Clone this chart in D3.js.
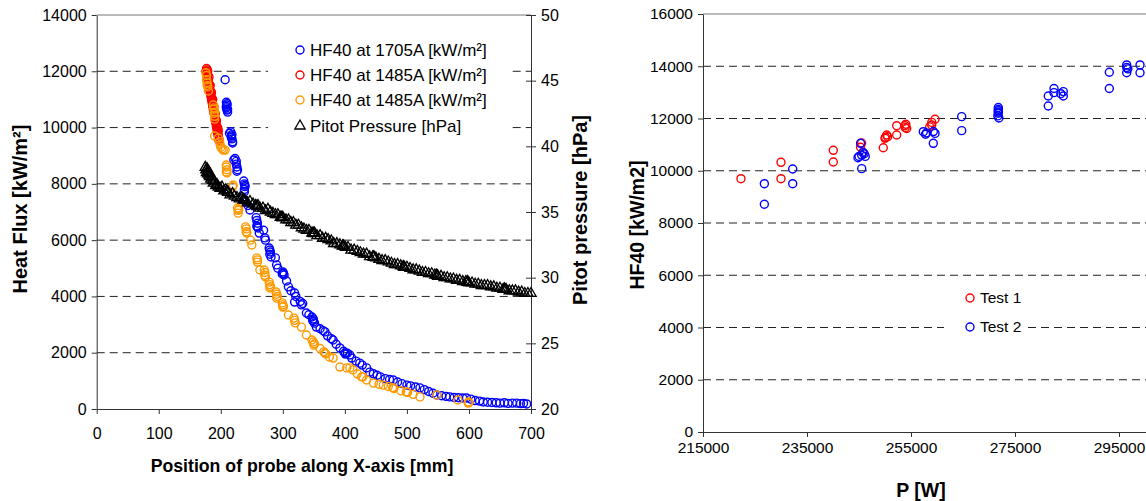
<!DOCTYPE html>
<html><head><meta charset="utf-8">
<script src="https://cdn.jsdelivr.net/npm/d3@7"></script>
<style>body{margin:0;background:#fff;overflow:hidden} text{font-family:"Liberation Sans",Arial,sans-serif;fill:#000}</style>
</head><body><svg id="c" width="1146" height="501"></svg>
<script>
// ---------- Left chart data ----------
const leftXTicks=[0,100,200,300,400,500,600,700];
const leftYTicks=[0,2000,4000,6000,8000,10000,12000,14000];
const pitotTicks=[20,25,30,35,40,45,50];
const legendLeft=["HF40 at 1705A [kW/m²]","HF40 at 1485A [kW/m²]","HF40 at 1485A [kW/m²]","Pitot Pressure [hPa]"];
const hf1705=[[207,11700],[209,10900],[210,10800],[209,10700],[210,10620],[211,10550],[210,10850],[209,10750],[211,10650],
[214,9800],[216,9850],[217,9700],[218,9600],[219,9500],[218,9750],[219,9450],[217,9650],
[221,8850],[223,8900],[225,8700],[226,8600],[227,8500],[226,8450],[225,8800],
[237,8100],[238,8000],[239,7900],[238,7800],[239,7950],[238,7720],[240,7350],[244,7230],[247,7070],
[257,6800],[258,6700],[259,6600],[258,6500],[259,6470],[260,6430],[262,6250],[269,6350],[271,6080],[272,6000],
[278,5720],[279,5650],[280,5580],[279,5500],[281,5400],[288,5370],[290,5120],[292,5000],
[300,4870],[301,4820],[302,4760],[299,4800],[306,4550],[309,4340],[313,4200],
[319,4120],[321,4000],[319,3800],[328,3820],[330,3700],[332,3750],
[338,3410],[342,3350],[347,3270],[349,3200],[350,3100],[351,3050],[348,3150],
[354,2910],[360,2850],[365,2780],[368,2740],[372,2600],[378,2500],[381,2450],[386,2300],
[392,2170],[398,2050],[400,1990],[401,1950],[404,1980],[408,1920],[411,1810],[418,1700],[424,1630],[428,1560],[435,1460],[440,1310],[446,1250],
[452,1200],[457,1140],[465,1080],[472,1050],[478,1030],[485,960],[492,900],[500,850],[506,820],[514,780],[521,750],[528,690],[535,620],
[542,560],[548,500],[556,470],[563,450],[569,430],[576,410],[583,400],[590,390],[596,390],[603,350],[610,300],[617,280],[623,250],[630,240],
[637,230],[644,220],[650,210],[657,220],[663,200],[670,210],[677,210],[683,190],[688,200],[693,180]];
const hf1485a=[[177,12100],[178,12050],[176,12000],[178,11950],[177,11900],[179,11850],[178,11800],[179,11750],[180,11700],[179,11650],[180,11600],[181,11550],[181,11500],[182,11430],[182,11370],[183,11300],[183,11240],[184,11180],[184,11120],[185,11060],[185,11000],[186,10940],[186,10880],[187,10820],[187,10760],[188,10700],[188,10640],[189,10580],[189,10520],[190,10460],[190,10400],[191,10330],[191,10270],[192,10210],[192,10150],[193,10090],[193,10030],[194,9970],[194,9910],[195,9850],[195,9790],[196,9730],[196,9670],[197,9600],[197,9540],
[179,12000],[181,11800],[183,11500],[185,11250],[187,11000],[189,10750],[191,10500],[193,10250],[195,10000],[196,9900]];
const hf1485b=[[176,11950],[177,11850],[177,11700],[178,11600],[178,11500],[179,11450],[180,11300],
[188,10800],[189,10650],[189,10500],[190,10400],[190,10300],[189,10700],[190,10550],
[190,9700],[196,9630],[198,9500],[199,9400],[200,9300],[202,9250],[204,9200],[207,9200],
[209,8670],[209,8600],[210,8500],[209,8420],[210,8390],[220,7960],[219,7900],
[227,7140],[228,7060],[228,6960],[229,7100],[240,6470],[241,6400],[241,6300],[242,6250],[248,6000],[250,5830],
[258,5370],[259,5300],[259,5220],[263,4940],[270,4940],[271,4850],[271,4750],[272,4690],
[278,4510],[279,4420],[280,4350],[279,4300],[289,4160],[290,4080],[291,4000],[290,3940],
[299,3770],[300,3700],[301,3640],[300,3620],[309,3340],[318,3230],[319,3150],[320,3060],
[330,2910],[338,2630],[347,2450],[349,2380],[350,2270],[351,2320],[360,2150],[366,2030],[368,1990],[369,1960],[375,1850],[381,1810],
[392,1490],[403,1460],[408,1460],[413,1390],[420,1250],[427,1140],[429,1140],[435,1030],
[446,920],[455,880],[462,850],[470,800],[477,760],[478,750],[479,730],[490,650],[499,610],[500,600],[501,590],
[510,520],[521,430],[548,500],[582,320],[599,210],[600,230],[599,250]];
const pitot=[[175,38.4],[176,38.2],[177,38.0],[178,38.3],[179,37.9],[180,38.1],[181,37.8],[182,37.7],[183,37.9],[184,37.5],[185,37.6],[187,37.4],[188,37.2],[190,37.3],[192,37.0],[194,37.1],[196,36.9],[199,36.8],[202,36.9],[205,36.6],[208,36.7],[210,36.6],[211,36.5],[212,36.5],[215,36.3],[219,36.4],[222,36.2],[226,36.1],[230,36.0],[234,36.1],[236,35.9],[237,35.95],[239,35.9],[243,35.7],[247,35.8],[252,35.6],[256,35.5],[258,35.45],[259,35.4],[260,35.5],[263,35.3],[268,35.3],[272,35.1],[276,35.2],[280,35.0],[284,34.9],[288,34.8],[292,34.8],[296,34.6],[298,34.6],[299,34.55],[300,34.6],[305,34.4],[309,34.4],[313,34.2],[317,34.2],[321,34.0],[325,34.0],[330,33.8],[334,33.7],[338,33.6],[342,33.6],[347,33.4],[349,33.4],[350,33.35],[351,33.4],[355,33.2],[360,33.2],[364,33.0],[369,33.0],[373,32.9],[378,32.8],[382,32.6],[387,32.6],[392,32.5],[396,32.4],[397,32.45],[398,32.4],[401,32.3],[405,32.3],[410,32.1],[415,32.1],[420,32.0],[425,31.9],[430,31.8],[435,31.8],[440,31.6],[445,31.6],[446,31.55],[447,31.6],[450,31.5],[455,31.4],[460,31.3],[465,31.3],[470,31.2],[475,31.1],[480,31.0],[485,31.0],[490,30.9],[494,30.85],[495,30.8],[496,30.8],[500,30.8],[505,30.7],[510,30.6],[515,30.6],[520,30.5],[525,30.4],[530,30.4],[535,30.3],[540,30.3],[545,30.2],[548,30.2],[549,30.15],[550,30.1],[555,30.1],[560,30.0],[565,30.0],[570,29.9],[575,29.9],[580,29.8],[585,29.8],[590,29.7],[595,29.7],[597,29.65],[598,29.7],[600,29.6],[605,29.6],[610,29.5],[615,29.5],[620,29.4],[625,29.4],[630,29.4],[635,29.3],[640,29.3],[645,29.2],[650,29.2],[655,29.1],[657,29.15],[658,29.1],[660,29.1],[665,29.0],[670,29.0],[675,29.0],[680,28.9],[685,28.9],[690,28.8],[695,28.8],[700,28.8]];

// ---------- Right chart data ----------
const rightXTicks=[215000,235000,255000,275000,295000];
const rightYTicks=[0,2000,4000,6000,8000,10000,12000,14000,16000];
const legendRight=["Test 1","Test 2"];
const test1=[[222300,9696],[230000,10323],[230000,9696],[240060,10782],[240060,10335],
[245500,11060],[245300,10900],[245700,10700],[249670,10880],[250000,11240],[250330,11370],[250100,11280],[250500,11300],
[252250,11725],[252250,11370],[253850,11725],[254170,11620],[253900,11650],[254000,11780],
[258980,11750],[259620,11970],[258600,11680],[259000,11850]];
const test2=[[226800,9505],[226800,8716],[232250,10067],[232250,9505],
[245000,10550],[245500,10600],[245800,10700],[246200,10550],[245300,11050],[246000,10650],[244800,10500],[245520,10080],
[257370,11495],[257800,11400],[258000,11450],[259620,11430],[259300,11500],[259290,11050],
[264750,12070],[264750,11535],
[271790,12420],[271790,12300],[271790,12200],[271700,12100],[271900,12020],[271800,12350],[271790,12250],
[281400,12860],[281400,12480],[282500,13150],[282500,12990],[284290,13030],[284290,12860],[283800,12950],
[293140,13770],[293140,13150],[296480,14050],[296480,13950],[296480,13750],[296700,13900],[299040,14050],[299040,13750]];

const BLUE="#0000ff", RED="#ff0000", ORANGE="#ff9900";
const svg=d3.select("#c");

// ---------- Left chart ----------
const xL=d3.scaleLinear([0,700],[96.7,531]);
const yL=d3.scaleLinear([0,14000],[409,15]);
const yR=d3.scaleLinear([20,50],[409,15]);
const gL=svg.append("g");
gL.selectAll("line.grid").data(leftYTicks.filter(v=>v>0&&v<14000)).join("line")
  .attr("x1",xL(0)).attr("x2",xL(700)).attr("y1",d=>yL(d)).attr("y2",d=>yL(d))
  .attr("stroke","#222").attr("stroke-dasharray","8,5").attr("stroke-width",1);
gL.append("line").attr("x1",xL(0)).attr("x2",xL(700)).attr("y1",yL(14000)).attr("y2",yL(14000)).attr("stroke","#777");
gL.append("rect").attr("x",268).attr("y",32).attr("width",244).attr("height",108).attr("fill","#fff");

function axisStyle(fs){return g=>{g.selectAll("text").style("font-size",fs).attr("fill","#000");g.selectAll("line").attr("stroke","#333");g.select(".domain").attr("stroke","#333");};}
gL.append("g").attr("transform",`translate(0,${yL(0)})`)
  .call(d3.axisBottom(xL).tickValues(leftXTicks).tickSize(5).tickSizeOuter(0).tickPadding(14).tickFormat(d3.format("d")))
  .call(axisStyle("16px"));
gL.append("g").attr("transform",`translate(${xL(0)},0)`)
  .call(d3.axisLeft(yL).tickValues(leftYTicks).tickSize(5).tickSizeOuter(0).tickPadding(5).tickFormat(d3.format("d")))
  .call(axisStyle("16px"));
const ar=gL.append("g").attr("transform",`translate(${xL(700)},0)`)
  .call(d3.axisRight(yR).tickValues(pitotTicks).tickSize(5).tickSizeOuter(0).tickPadding(5))
  .call(axisStyle("16px"));
ar.selectAll(".tick line").attr("x1",-5);

function circles(g,data,xs,ys,color){
  g.append("g").selectAll("circle").data(data).join("circle")
   .attr("cx",d=>xs(d[0])).attr("cy",d=>ys(d[1])).attr("r",4)
   .attr("fill","none").attr("stroke",color).attr("stroke-width",1.4);
}
circles(gL,hf1705,xL,yL,BLUE);
circles(gL,hf1485a,xL,yL,RED);
circles(gL,hf1485b,xL,yL,ORANGE);
const tri=d3.symbol(d3.symbolTriangle,46);
gL.append("g").selectAll("path").data(pitot).join("path")
  .attr("d",tri).attr("transform",d=>`translate(${xL(d[0])},${yR(d[1])})`)
  .attr("fill","none").attr("stroke","#000").attr("stroke-width",1.3);

const legColors=[BLUE,RED,ORANGE,null];
const legY=[50,75,100,126];
legendLeft.forEach((t,i)=>{
  if(legColors[i]) gL.append("circle").attr("cx",300).attr("cy",legY[i]).attr("r",4).attr("fill","none").attr("stroke",legColors[i]).attr("stroke-width",1.4);
  else gL.append("path").attr("d",tri).attr("transform",`translate(300,${legY[i]})`).attr("fill","none").attr("stroke","#000").attr("stroke-width",1.3);
  gL.append("text").attr("x",310).attr("y",legY[i]).attr("dy","0.35em").style("font-size","17px").text(t);
});
gL.append("text").attr("x",302).attr("y",472).attr("text-anchor","middle").style("font-size","17.7px").style("font-weight","bold").text("Position of probe along X-axis [mm]");
gL.append("text").attr("transform","translate(27,209) rotate(-90)").attr("text-anchor","middle").style("font-size","20px").style("font-weight","bold").text("Heat Flux [kW/m²]");
gL.append("text").attr("transform","translate(587,210) rotate(-90)").attr("text-anchor","middle").style("font-size","20px").style("font-weight","bold").text("Pitot pressure [hPa]");

// ---------- Right chart ----------
const xP=d3.scaleLinear([215000,305000],[703,1171]);
const yP=d3.scaleLinear([0,16000],[432,14]);
const gR=svg.append("g");
gR.selectAll("line.grid").data(rightYTicks.filter(v=>v>0&&v<16000)).join("line")
  .attr("x1",xP(215000)).attr("x2",1146).attr("y1",d=>yP(d)).attr("y2",d=>yP(d))
  .attr("stroke","#222").attr("stroke-dasharray","8,5").attr("stroke-width",1);
gR.append("line").attr("x1",xP(215000)).attr("x2",1146).attr("y1",yP(16000)).attr("y2",yP(16000)).attr("stroke","#777");
gR.append("rect").attr("x",944).attr("y",284).attr("width",84).attr("height",58).attr("fill","#fff");
gR.append("g").attr("transform",`translate(0,${yP(0)})`)
  .call(d3.axisBottom(xP).tickValues(rightXTicks).tickSize(5).tickSizeOuter(0).tickPadding(5).tickFormat(d3.format("d")))
  .call(axisStyle("15.5px"));
gR.append("g").attr("transform",`translate(${xP(215000)},0)`)
  .call(d3.axisLeft(yP).tickValues(rightYTicks).tickSize(5).tickSizeOuter(0).tickPadding(5).tickFormat(d3.format("d")))
  .call(axisStyle("15.5px"));
circles(gR,test1,xP,yP,RED);
circles(gR,test2,xP,yP,BLUE);
const legRC=[RED,BLUE], legRY=[298,327];
legendRight.forEach((t,i)=>{
  gR.append("circle").attr("cx",970).attr("cy",legRY[i]).attr("r",4).attr("fill","none").attr("stroke",legRC[i]).attr("stroke-width",1.4);
  gR.append("text").attr("x",980).attr("y",legRY[i]).attr("dy","0.35em").style("font-size","15.5px").text(t);
});
gR.append("text").attr("x",921).attr("y",497).attr("text-anchor","middle").style("font-size","19.5px").style("font-weight","bold").text("P [W]");
gR.append("text").attr("transform","translate(644,225) rotate(-90)").attr("text-anchor","middle").style("font-size","19.5px").style("font-weight","bold").text("HF40 [kW/m2]");
</script></body></html>
